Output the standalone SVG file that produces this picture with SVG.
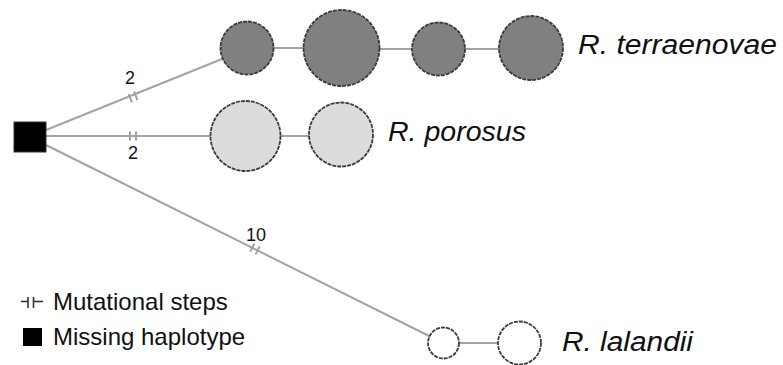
<svg xmlns="http://www.w3.org/2000/svg" width="783" height="365" viewBox="0 0 783 365">
<style>
.edge{stroke:#a3a3a3;stroke-width:2;fill:none}
.tick{stroke:#a3a3a3;stroke-width:2}
.hap{stroke:#3a3a3a;stroke-width:1.8;stroke-dasharray:4 1}
.dark{fill:#808080}
.light{fill:#dcdcdc}
.white{fill:#ffffff}
.sp{font-family:"Liberation Sans",Arial,sans-serif;font-style:italic;font-size:27px;fill:#111}
.num{font-family:"Liberation Sans",Arial,sans-serif;font-size:18px;fill:#111;text-anchor:middle}
.leg{font-family:"Liberation Sans",Arial,sans-serif;font-size:24px;fill:#111}
</style>
<rect width="783" height="365" fill="#fff"/>
<g id="connectors">
<line class="edge" x1="46" y1="130" x2="222" y2="59"/>
<line class="edge" x1="46" y1="136" x2="211" y2="136"/>
<line class="edge" x1="46" y1="145" x2="429" y2="336"/>
<line class="edge" x1="273" y1="48" x2="304" y2="48"/>
<line class="edge" x1="379" y1="49" x2="412" y2="49"/>
<line class="edge" x1="465" y1="49" x2="499" y2="49"/>
<line class="edge" x1="280" y1="136" x2="309" y2="136"/>
<line class="edge" x1="459" y1="343" x2="498" y2="343"/>
<g transform="translate(133,97) rotate(-21.6)"><line class="tick" x1="-3" y1="-4.5" x2="-3" y2="4.5"/><line class="tick" x1="3" y1="-4.5" x2="3" y2="4.5"/></g>
<g transform="translate(133,136)"><line class="tick" x1="-3" y1="-4.5" x2="-3" y2="4.5"/><line class="tick" x1="3" y1="-4.5" x2="3" y2="4.5"/></g>
<g transform="translate(255,249) rotate(26.4)"><line class="tick" x1="-3" y1="-4.5" x2="-3" y2="4.5"/><line class="tick" x1="3" y1="-4.5" x2="3" y2="4.5"/></g>
<text class="num" x="130" y="84">2</text>
<text class="num" x="133" y="159">2</text>
<text class="num" x="256" y="241">10</text>
</g>
<g id="missing"><rect x="14" y="122" width="32" height="30" fill="#000" stroke="#333" stroke-width="1"/></g>
<g id="terraenovae">
<circle class="hap dark" cx="247" cy="48" r="26.5"/>
<circle class="hap dark" cx="341.5" cy="48" r="38"/>
<circle class="hap dark" cx="438.5" cy="49" r="26.5"/>
<circle class="hap dark" cx="531" cy="48" r="32"/>
<text class="sp" x="578" y="54" textLength="199" lengthAdjust="spacingAndGlyphs">R. terraenovae</text>
</g>
<g id="porosus">
<circle class="hap light" cx="245.5" cy="136" r="35"/>
<circle class="hap light" cx="341" cy="134.5" r="32"/>
<text class="sp" x="388" y="141" textLength="138" lengthAdjust="spacingAndGlyphs">R. porosus</text>
</g>
<g id="lalandii">
<circle class="hap white" cx="443.5" cy="343" r="15.5"/>
<circle class="hap white" cx="519.5" cy="343" r="21.5"/>
<text class="sp" x="562" y="351" textLength="131" lengthAdjust="spacingAndGlyphs">R. lalandii</text>
</g>
<g id="legend">
<line stroke="#333" stroke-width="1.6" x1="21" y1="301.5" x2="28" y2="301.5"/>
<line stroke="#333" stroke-width="1.6" x1="28" y1="297" x2="28" y2="308"/>
<line stroke="#333" stroke-width="1.6" x1="33.5" y1="297" x2="33.5" y2="308"/>
<line stroke="#333" stroke-width="1.6" x1="33.5" y1="301.5" x2="43" y2="301.5"/>
<text class="leg" x="53" y="310">Mutational steps</text>
<rect x="23" y="328" width="19" height="18" fill="#000"/>
<text class="leg" x="53" y="345">Missing haplotype</text>
</g>
</svg>
